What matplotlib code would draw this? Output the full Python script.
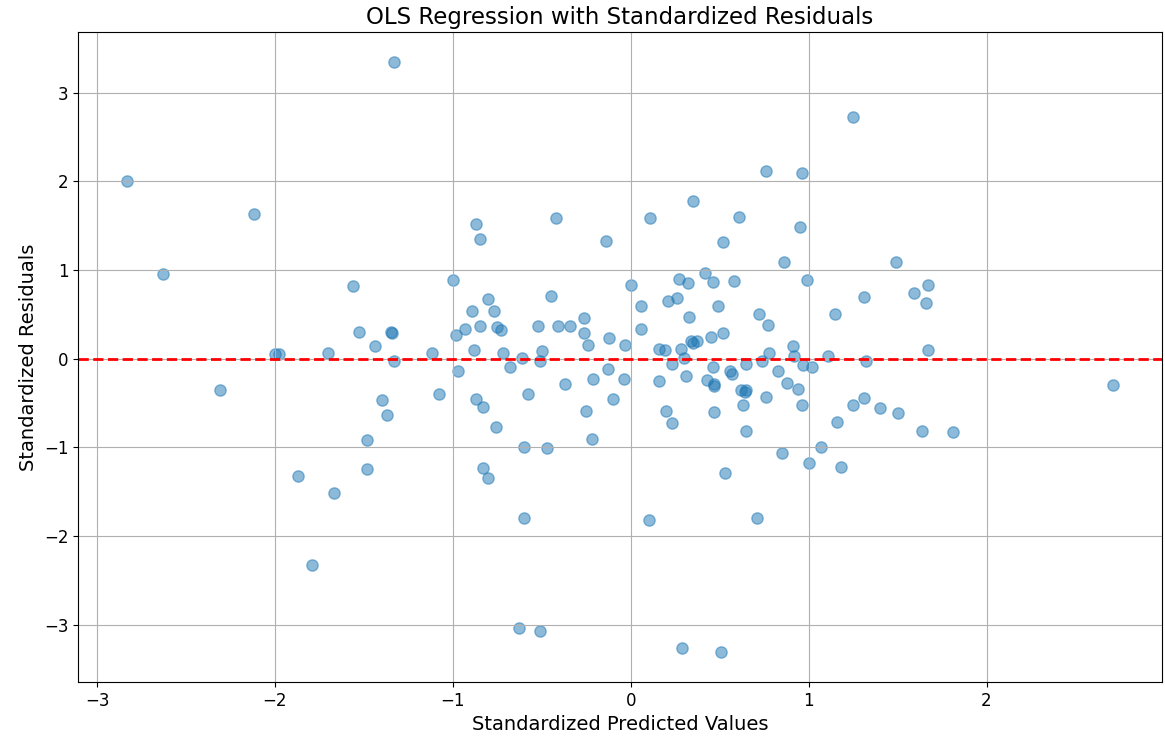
import numpy as np
import matplotlib
matplotlib.use("Agg")
import matplotlib.pyplot as plt

# standardized predicted values (x) and standardized residuals (y)
pred_std = [
    -2.83, -2.63, -2.31, -2.12, -2.00, -1.98, -1.87, -1.79, -1.70, -1.67,
    -1.56, -1.53, -1.48, -1.48, -1.44, -1.40, -1.37, -1.35, -1.34, -1.33,
    -1.33, -1.12, -1.08, -1.00, -0.98, -0.97, -0.93, -0.89, -0.88, -0.87,
    -0.85, -0.87, -0.85, -0.83, -0.83, -0.80, -0.80, -0.77, -0.76, -0.75,
    -0.73, -0.72, -0.68, -0.63, -0.61, -0.60, -0.60, -0.58, -0.52, -0.51,
    -0.51, -0.50, -0.47, -0.45, -0.42, -0.41, -0.37, -0.34, -0.26, -0.26,
    -0.25, -0.24, -0.22, -0.21, -0.14, -0.13, -0.12, -0.10, -0.04, -0.03,
    0.00, 0.06, 0.06, 0.10, 0.11, 0.16, 0.16, 0.19, 0.20, 0.21,
    0.23, 0.23, 0.26, 0.27, 0.28, 0.29, 0.31, 0.30, 0.32, 0.33,
    0.34, 0.35, 0.35, 0.37, 0.42, 0.43, 0.45, 0.46, 0.46, 0.47,
    0.47, 0.47, 0.49, 0.51, 0.52, 0.52, 0.53, 0.56, 0.57, 0.58,
    0.61, 0.62, 0.63, 0.64, 0.65, 0.65, 0.65, 0.71, 0.72, 0.74,
    0.76, 0.76, 0.77, 0.78, 0.83, 0.85, 0.86, 0.88, 0.91, 0.92,
    0.94, 0.95, 0.96, 0.96, 0.97, 0.99, 1.00, 1.02, 1.07, 1.11,
    1.15, 1.16, 1.18, 1.25, 1.25, 1.31, 1.31, 1.32, 1.40, 1.49,
    1.50, 1.59, 1.64, 1.66, 1.67, 1.67, 1.81, 2.71,
]
resid_std = [
    2.00, 0.95, -0.35, 1.63, 0.05, 0.05, -1.32, -2.32, 0.07, -1.51,
    0.82, 0.30, -0.92, -1.24, 0.14, -0.47, -0.63, 0.30, 0.29, -0.03,
    3.35, 0.07, -0.40, 0.89, 0.27, -0.14, 0.34, 0.54, 0.10, 1.52,
    1.35, -0.45, 0.37, -0.54, -1.23, 0.67, -1.34, 0.54, -0.77, 0.36,
    0.32, 0.07, -0.09, -3.03, 0.01, -1.00, -1.79, -0.40, 0.37, -0.03,
    -3.07, 0.09, -1.01, 0.71, 1.59, 0.37, -0.28, 0.37, 0.46, 0.29,
    -0.59, 0.15, -0.91, -0.23, 1.33, -0.12, 0.23, -0.45, -0.23, 0.16,
    0.83, 0.59, 0.34, -1.82, 1.59, -0.25, 0.11, 0.10, -0.59, 0.65,
    -0.06, -0.72, 0.68, 0.90, 0.11, -3.26, -0.19, 0.01, 0.85, 0.47,
    0.20, 1.78, 0.18, 0.20, 0.97, -0.24, 0.25, 0.87, -0.09, -0.29,
    -0.31, -0.60, 0.59, -3.31, 1.32, 0.29, -1.29, -0.14, -0.17, 0.88,
    1.60, -0.35, -0.52, -0.37, -0.82, -0.06, -0.35, -1.79, 0.50, -0.03,
    -0.43, 2.12, 0.38, 0.06, -0.14, -1.06, 1.09, -0.27, 0.14, 0.03,
    -0.34, 1.49, 2.09, -0.52, -0.07, 0.89, -1.18, -0.09, -1.00, 0.03,
    0.50, -0.71, -1.22, -0.52, 2.73, 0.70, -0.44, -0.03, -0.56, 1.09,
    -0.61, 0.74, -0.82, 0.63, 0.83, 0.10, -0.83, -0.30,
]

fig = plt.figure(figsize=(11.65, 7.45), dpi=100)
ax = fig.add_axes([0.067, 0.0846, 0.9305, 0.8725])

ax.scatter(pred_std, resid_std, s=66, alpha=0.5, color="C0")
ax.axhline(0, color="red", linestyle="--", linewidth=2)

ax.set_title("OLS Regression with Standardized Residuals", fontsize=16.5)
ax.set_xlabel("Standardized Predicted Values", fontsize=14)
ax.set_ylabel("Standardized Residuals", fontsize=14)
ax.tick_params(labelsize=12)
ax.grid(True)

fig.savefig("out.png", dpi=100)
plt.close(fig)
